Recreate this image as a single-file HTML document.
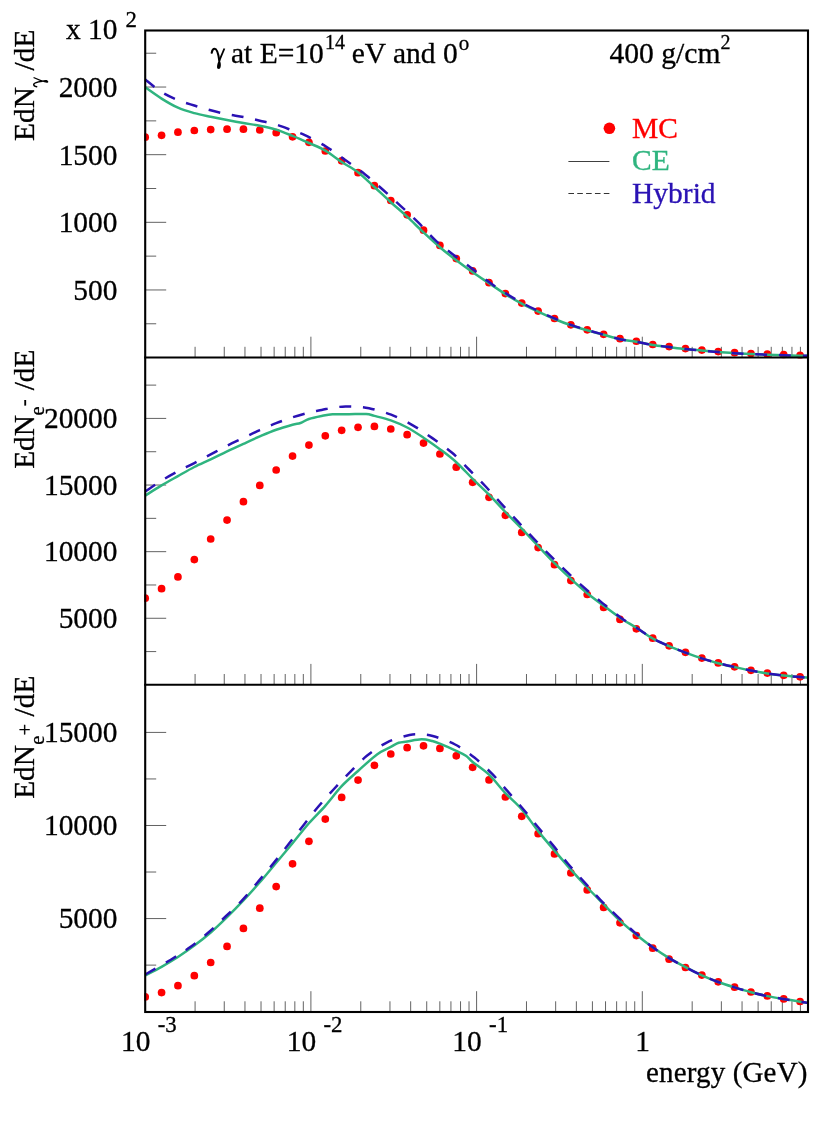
<!DOCTYPE html>
<html><head><meta charset="utf-8"><title>chart</title>
<style>html,body{margin:0;padding:0;background:#fff}svg{display:block;will-change:transform}text{font-family:"Liberation Serif",serif;fill:#000;stroke:#000;stroke-width:0.3px}</style></head><body>
<svg width="830" height="1147" viewBox="0 0 830 1147">
<rect width="830" height="1147" fill="#fff"/>
<defs><g id="gam"><path d="M0.2,-9.9 C0.6,-12.6 1.7,-14 3.2,-14 C5.4,-14 6.8,-9.5 7.8,-2.2" fill="none" stroke="#000" stroke-width="2.1" stroke-linecap="round"/><path d="M12.9,-14.2 L7.9,-2.4" fill="none" stroke="#000" stroke-width="1.8" stroke-linecap="butt"/><path d="M7.9,-3.6 C9.5,0.2 9.7,3.3 8.9,5 C8.1,6.6 6,6.6 5.6,5 C5.2,3.3 6.1,0.2 7.9,-3.6 Z" fill="#000"/></g></defs>
<g stroke="#000" stroke-width="0.62" fill="none">
<line x1="195.08" y1="357.50" x2="195.08" y2="346.80"/>
<line x1="224.26" y1="357.50" x2="224.26" y2="346.80"/>
<line x1="244.96" y1="357.50" x2="244.96" y2="346.80"/>
<line x1="261.02" y1="357.50" x2="261.02" y2="346.80"/>
<line x1="274.14" y1="357.50" x2="274.14" y2="346.80"/>
<line x1="285.23" y1="357.50" x2="285.23" y2="346.80"/>
<line x1="294.84" y1="357.50" x2="294.84" y2="346.80"/>
<line x1="303.32" y1="357.50" x2="303.32" y2="346.80"/>
<line x1="310.90" y1="357.50" x2="310.90" y2="336.70"/>
<line x1="360.78" y1="357.50" x2="360.78" y2="346.80"/>
<line x1="389.96" y1="357.50" x2="389.96" y2="346.80"/>
<line x1="410.66" y1="357.50" x2="410.66" y2="346.80"/>
<line x1="426.72" y1="357.50" x2="426.72" y2="346.80"/>
<line x1="439.84" y1="357.50" x2="439.84" y2="346.80"/>
<line x1="450.93" y1="357.50" x2="450.93" y2="346.80"/>
<line x1="460.54" y1="357.50" x2="460.54" y2="346.80"/>
<line x1="469.02" y1="357.50" x2="469.02" y2="346.80"/>
<line x1="476.60" y1="357.50" x2="476.60" y2="336.70"/>
<line x1="526.48" y1="357.50" x2="526.48" y2="346.80"/>
<line x1="555.66" y1="357.50" x2="555.66" y2="346.80"/>
<line x1="576.36" y1="357.50" x2="576.36" y2="346.80"/>
<line x1="592.42" y1="357.50" x2="592.42" y2="346.80"/>
<line x1="605.54" y1="357.50" x2="605.54" y2="346.80"/>
<line x1="616.63" y1="357.50" x2="616.63" y2="346.80"/>
<line x1="626.24" y1="357.50" x2="626.24" y2="346.80"/>
<line x1="634.72" y1="357.50" x2="634.72" y2="346.80"/>
<line x1="642.30" y1="357.50" x2="642.30" y2="336.70"/>
<line x1="692.18" y1="357.50" x2="692.18" y2="346.80"/>
<line x1="721.36" y1="357.50" x2="721.36" y2="346.80"/>
<line x1="742.06" y1="357.50" x2="742.06" y2="346.80"/>
<line x1="758.12" y1="357.50" x2="758.12" y2="346.80"/>
<line x1="771.24" y1="357.50" x2="771.24" y2="346.80"/>
<line x1="782.33" y1="357.50" x2="782.33" y2="346.80"/>
<line x1="791.94" y1="357.50" x2="791.94" y2="346.80"/>
<line x1="800.42" y1="357.50" x2="800.42" y2="346.80"/>
<line x1="195.08" y1="684.70" x2="195.08" y2="674.00"/>
<line x1="224.26" y1="684.70" x2="224.26" y2="674.00"/>
<line x1="244.96" y1="684.70" x2="244.96" y2="674.00"/>
<line x1="261.02" y1="684.70" x2="261.02" y2="674.00"/>
<line x1="274.14" y1="684.70" x2="274.14" y2="674.00"/>
<line x1="285.23" y1="684.70" x2="285.23" y2="674.00"/>
<line x1="294.84" y1="684.70" x2="294.84" y2="674.00"/>
<line x1="303.32" y1="684.70" x2="303.32" y2="674.00"/>
<line x1="310.90" y1="684.70" x2="310.90" y2="663.90"/>
<line x1="360.78" y1="684.70" x2="360.78" y2="674.00"/>
<line x1="389.96" y1="684.70" x2="389.96" y2="674.00"/>
<line x1="410.66" y1="684.70" x2="410.66" y2="674.00"/>
<line x1="426.72" y1="684.70" x2="426.72" y2="674.00"/>
<line x1="439.84" y1="684.70" x2="439.84" y2="674.00"/>
<line x1="450.93" y1="684.70" x2="450.93" y2="674.00"/>
<line x1="460.54" y1="684.70" x2="460.54" y2="674.00"/>
<line x1="469.02" y1="684.70" x2="469.02" y2="674.00"/>
<line x1="476.60" y1="684.70" x2="476.60" y2="663.90"/>
<line x1="526.48" y1="684.70" x2="526.48" y2="674.00"/>
<line x1="555.66" y1="684.70" x2="555.66" y2="674.00"/>
<line x1="576.36" y1="684.70" x2="576.36" y2="674.00"/>
<line x1="592.42" y1="684.70" x2="592.42" y2="674.00"/>
<line x1="605.54" y1="684.70" x2="605.54" y2="674.00"/>
<line x1="616.63" y1="684.70" x2="616.63" y2="674.00"/>
<line x1="626.24" y1="684.70" x2="626.24" y2="674.00"/>
<line x1="634.72" y1="684.70" x2="634.72" y2="674.00"/>
<line x1="642.30" y1="684.70" x2="642.30" y2="663.90"/>
<line x1="692.18" y1="684.70" x2="692.18" y2="674.00"/>
<line x1="721.36" y1="684.70" x2="721.36" y2="674.00"/>
<line x1="742.06" y1="684.70" x2="742.06" y2="674.00"/>
<line x1="758.12" y1="684.70" x2="758.12" y2="674.00"/>
<line x1="771.24" y1="684.70" x2="771.24" y2="674.00"/>
<line x1="782.33" y1="684.70" x2="782.33" y2="674.00"/>
<line x1="791.94" y1="684.70" x2="791.94" y2="674.00"/>
<line x1="800.42" y1="684.70" x2="800.42" y2="674.00"/>
<line x1="195.08" y1="1012.00" x2="195.08" y2="1001.30"/>
<line x1="224.26" y1="1012.00" x2="224.26" y2="1001.30"/>
<line x1="244.96" y1="1012.00" x2="244.96" y2="1001.30"/>
<line x1="261.02" y1="1012.00" x2="261.02" y2="1001.30"/>
<line x1="274.14" y1="1012.00" x2="274.14" y2="1001.30"/>
<line x1="285.23" y1="1012.00" x2="285.23" y2="1001.30"/>
<line x1="294.84" y1="1012.00" x2="294.84" y2="1001.30"/>
<line x1="303.32" y1="1012.00" x2="303.32" y2="1001.30"/>
<line x1="310.90" y1="1012.00" x2="310.90" y2="991.20"/>
<line x1="360.78" y1="1012.00" x2="360.78" y2="1001.30"/>
<line x1="389.96" y1="1012.00" x2="389.96" y2="1001.30"/>
<line x1="410.66" y1="1012.00" x2="410.66" y2="1001.30"/>
<line x1="426.72" y1="1012.00" x2="426.72" y2="1001.30"/>
<line x1="439.84" y1="1012.00" x2="439.84" y2="1001.30"/>
<line x1="450.93" y1="1012.00" x2="450.93" y2="1001.30"/>
<line x1="460.54" y1="1012.00" x2="460.54" y2="1001.30"/>
<line x1="469.02" y1="1012.00" x2="469.02" y2="1001.30"/>
<line x1="476.60" y1="1012.00" x2="476.60" y2="991.20"/>
<line x1="526.48" y1="1012.00" x2="526.48" y2="1001.30"/>
<line x1="555.66" y1="1012.00" x2="555.66" y2="1001.30"/>
<line x1="576.36" y1="1012.00" x2="576.36" y2="1001.30"/>
<line x1="592.42" y1="1012.00" x2="592.42" y2="1001.30"/>
<line x1="605.54" y1="1012.00" x2="605.54" y2="1001.30"/>
<line x1="616.63" y1="1012.00" x2="616.63" y2="1001.30"/>
<line x1="626.24" y1="1012.00" x2="626.24" y2="1001.30"/>
<line x1="634.72" y1="1012.00" x2="634.72" y2="1001.30"/>
<line x1="642.30" y1="1012.00" x2="642.30" y2="991.20"/>
<line x1="692.18" y1="1012.00" x2="692.18" y2="1001.30"/>
<line x1="721.36" y1="1012.00" x2="721.36" y2="1001.30"/>
<line x1="742.06" y1="1012.00" x2="742.06" y2="1001.30"/>
<line x1="758.12" y1="1012.00" x2="758.12" y2="1001.30"/>
<line x1="771.24" y1="1012.00" x2="771.24" y2="1001.30"/>
<line x1="782.33" y1="1012.00" x2="782.33" y2="1001.30"/>
<line x1="791.94" y1="1012.00" x2="791.94" y2="1001.30"/>
<line x1="800.42" y1="1012.00" x2="800.42" y2="1001.30"/>
<line x1="145.20" y1="323.78" x2="156.20" y2="323.78"/>
<line x1="145.20" y1="289.96" x2="166.20" y2="289.96"/>
<line x1="145.20" y1="256.14" x2="156.20" y2="256.14"/>
<line x1="145.20" y1="222.32" x2="166.20" y2="222.32"/>
<line x1="145.20" y1="188.50" x2="156.20" y2="188.50"/>
<line x1="145.20" y1="154.68" x2="166.20" y2="154.68"/>
<line x1="145.20" y1="120.86" x2="156.20" y2="120.86"/>
<line x1="145.20" y1="87.04" x2="166.20" y2="87.04"/>
<line x1="145.20" y1="53.22" x2="156.20" y2="53.22"/>
<line x1="145.20" y1="651.59" x2="156.20" y2="651.59"/>
<line x1="145.20" y1="618.28" x2="166.20" y2="618.28"/>
<line x1="145.20" y1="584.97" x2="156.20" y2="584.97"/>
<line x1="145.20" y1="551.66" x2="166.20" y2="551.66"/>
<line x1="145.20" y1="518.35" x2="156.20" y2="518.35"/>
<line x1="145.20" y1="485.04" x2="166.20" y2="485.04"/>
<line x1="145.20" y1="451.73" x2="156.20" y2="451.73"/>
<line x1="145.20" y1="418.42" x2="166.20" y2="418.42"/>
<line x1="145.20" y1="385.11" x2="156.20" y2="385.11"/>
<line x1="145.20" y1="965.11" x2="156.20" y2="965.11"/>
<line x1="145.20" y1="918.57" x2="166.20" y2="918.57"/>
<line x1="145.20" y1="872.03" x2="156.20" y2="872.03"/>
<line x1="145.20" y1="825.49" x2="166.20" y2="825.49"/>
<line x1="145.20" y1="778.95" x2="156.20" y2="778.95"/>
<line x1="145.20" y1="732.41" x2="166.20" y2="732.41"/>
</g>
<clipPath id="c1"><rect x="144.20" y="30.50" width="664.80" height="328.00"/></clipPath>
<g clip-path="url(#c1)">
<g fill="#ff0000">
<circle cx="145.20" cy="137.20" r="3.85"/>
<circle cx="161.57" cy="135.30" r="3.85"/>
<circle cx="177.94" cy="132.20" r="3.85"/>
<circle cx="194.32" cy="130.50" r="3.85"/>
<circle cx="210.69" cy="129.60" r="3.85"/>
<circle cx="227.06" cy="129.20" r="3.85"/>
<circle cx="243.43" cy="129.20" r="3.85"/>
<circle cx="259.80" cy="130.00" r="3.85"/>
<circle cx="276.18" cy="132.70" r="3.85"/>
<circle cx="292.55" cy="136.80" r="3.85"/>
<circle cx="308.92" cy="142.35" r="3.85"/>
<circle cx="325.29" cy="151.00" r="3.85"/>
<circle cx="341.66" cy="160.80" r="3.85"/>
<circle cx="358.04" cy="172.70" r="3.85"/>
<circle cx="374.41" cy="185.70" r="3.85"/>
<circle cx="390.78" cy="200.50" r="3.85"/>
<circle cx="407.15" cy="214.80" r="3.85"/>
<circle cx="423.52" cy="230.20" r="3.85"/>
<circle cx="439.90" cy="245.40" r="3.85"/>
<circle cx="456.27" cy="258.60" r="3.85"/>
<circle cx="472.64" cy="270.95" r="3.85"/>
<circle cx="489.01" cy="282.70" r="3.85"/>
<circle cx="505.38" cy="293.60" r="3.85"/>
<circle cx="521.76" cy="303.10" r="3.85"/>
<circle cx="538.13" cy="311.10" r="3.85"/>
<circle cx="554.50" cy="318.50" r="3.85"/>
<circle cx="570.87" cy="324.80" r="3.85"/>
<circle cx="587.24" cy="329.80" r="3.85"/>
<circle cx="603.62" cy="334.30" r="3.85"/>
<circle cx="619.99" cy="338.70" r="3.85"/>
<circle cx="636.36" cy="341.25" r="3.85"/>
<circle cx="652.73" cy="344.50" r="3.85"/>
<circle cx="669.10" cy="346.60" r="3.85"/>
<circle cx="685.48" cy="348.60" r="3.85"/>
<circle cx="701.85" cy="350.10" r="3.85"/>
<circle cx="718.22" cy="351.60" r="3.85"/>
<circle cx="734.59" cy="352.70" r="3.85"/>
<circle cx="750.96" cy="353.60" r="3.85"/>
<circle cx="767.34" cy="354.20" r="3.85"/>
<circle cx="783.71" cy="354.70" r="3.85"/>
<circle cx="800.08" cy="355.30" r="3.85"/>
</g>
<path d="M145.20 87.30 C147.93 89.18 156.11 95.20 161.57 98.60 C167.03 102.00 172.49 105.28 177.94 107.70 C183.40 110.12 188.86 111.58 194.32 113.10 C199.77 114.62 205.23 115.63 210.69 116.80 C216.15 117.97 221.60 119.05 227.06 120.10 C232.52 121.15 237.97 122.17 243.43 123.10 C248.89 124.03 254.35 124.62 259.80 125.70 C265.26 126.78 270.72 127.90 276.18 129.60 C281.63 131.30 287.09 133.67 292.55 135.90 C298.01 138.13 303.46 140.55 308.92 143.00 C314.38 145.45 319.83 147.43 325.29 150.60 C330.75 153.77 336.21 158.40 341.66 162.00 C347.12 165.60 352.58 168.03 358.04 172.20 C363.49 176.37 368.95 182.00 374.41 187.00 C379.87 192.00 385.32 197.25 390.78 202.20 C396.24 207.15 401.69 211.67 407.15 216.70 C412.61 221.73 418.07 227.32 423.52 232.40 C428.98 237.48 434.44 242.55 439.90 247.20 C445.35 251.85 450.81 256.13 456.27 260.30 C461.73 264.47 467.18 268.38 472.64 272.20 C478.10 276.02 483.55 279.55 489.01 283.20 C494.47 286.85 499.93 290.70 505.38 294.10 C510.84 297.50 516.30 300.68 521.76 303.60 C527.21 306.52 532.67 309.03 538.13 311.60 C543.59 314.17 549.04 316.72 554.50 319.00 C559.96 321.28 565.41 323.42 570.87 325.30 C576.33 327.18 581.79 328.72 587.24 330.30 C592.70 331.88 598.16 333.32 603.62 334.80 C609.07 336.28 614.53 338.04 619.99 339.20 C625.45 340.36 630.90 340.78 636.36 341.75 C641.82 342.72 647.27 344.11 652.73 345.00 C658.19 345.89 663.65 346.42 669.10 347.10 C674.56 347.78 680.02 348.52 685.48 349.10 C690.93 349.68 696.39 350.10 701.85 350.60 C707.31 351.10 712.76 351.67 718.22 352.10 C723.68 352.53 729.13 352.87 734.59 353.20 C740.05 353.53 745.51 353.85 750.96 354.10 C756.42 354.35 761.88 354.52 767.34 354.70 C772.79 354.88 778.25 355.02 783.71 355.20 C789.17 355.38 796.03 355.70 800.08 355.80 C804.13 355.90 806.68 355.80 808.00 355.80" fill="none" stroke="#2fb47f" stroke-width="2.5" stroke-linejoin="round"/>
<path d="M145.20 79.50 C147.93 81.60 156.11 88.67 161.57 92.10 C167.03 95.53 172.49 97.87 177.94 100.10 C183.40 102.33 188.86 103.80 194.32 105.50 C199.77 107.20 205.23 108.85 210.69 110.30 C216.15 111.75 221.60 113.08 227.06 114.20 C232.52 115.32 237.97 115.92 243.43 117.00 C248.89 118.08 254.35 119.43 259.80 120.70 C265.26 121.97 270.72 122.97 276.18 124.60 C281.63 126.23 287.68 128.70 292.55 130.50 C297.42 132.30 299.82 132.73 305.40 135.40 C310.98 138.07 319.23 142.30 326.00 146.50 C332.77 150.70 339.48 155.95 346.00 160.60 C352.52 165.25 358.85 169.45 365.10 174.40 C371.35 179.35 377.55 185.02 383.50 190.30 C389.45 195.58 395.02 200.75 400.80 206.10 C406.58 211.45 412.33 216.62 418.20 222.40 C424.07 228.18 430.15 235.42 436.00 240.80 C441.85 246.18 447.42 250.18 453.30 254.70 C459.18 259.22 465.35 263.35 471.30 267.90 C477.25 272.45 483.33 277.81 489.01 282.00 C494.69 286.19 499.93 289.60 505.38 293.05 C510.84 296.50 516.30 299.73 521.76 302.70 C527.21 305.67 532.67 308.23 538.13 310.85 C543.59 313.47 549.04 316.07 554.50 318.40 C559.96 320.73 565.41 322.92 570.87 324.85 C576.33 326.78 581.79 328.37 587.24 330.00 C592.70 331.63 598.16 333.12 603.62 334.65 C609.07 336.18 614.53 338.02 619.99 339.20 C625.45 340.38 630.90 340.78 636.36 341.75 C641.82 342.72 647.27 344.11 652.73 345.00 C658.19 345.89 663.65 346.42 669.10 347.10 C674.56 347.78 680.02 348.52 685.48 349.10 C690.93 349.68 696.39 350.10 701.85 350.60 C707.31 351.10 712.76 351.67 718.22 352.10 C723.68 352.53 729.13 352.87 734.59 353.20 C740.05 353.53 745.51 353.85 750.96 354.10 C756.42 354.35 761.88 354.52 767.34 354.70 C772.79 354.88 778.25 355.02 783.71 355.20 C789.17 355.38 796.03 355.70 800.08 355.80 C804.13 355.90 806.68 355.80 808.00 355.80" fill="none" stroke="#2a12b4" stroke-width="2.5" stroke-dasharray="11.9 11.8" stroke-linejoin="round"/>
</g>
<clipPath id="c2"><rect x="144.20" y="357.50" width="664.80" height="328.20"/></clipPath>
<g clip-path="url(#c2)">
<g fill="#ff0000">
<circle cx="145.20" cy="598.20" r="3.85"/>
<circle cx="161.57" cy="588.70" r="3.85"/>
<circle cx="177.94" cy="576.90" r="3.85"/>
<circle cx="194.32" cy="559.60" r="3.85"/>
<circle cx="210.69" cy="539.00" r="3.85"/>
<circle cx="227.06" cy="520.10" r="3.85"/>
<circle cx="243.43" cy="501.70" r="3.85"/>
<circle cx="259.80" cy="485.40" r="3.85"/>
<circle cx="276.18" cy="470.00" r="3.85"/>
<circle cx="292.55" cy="456.10" r="3.85"/>
<circle cx="308.92" cy="445.10" r="3.85"/>
<circle cx="325.29" cy="435.80" r="3.85"/>
<circle cx="341.66" cy="430.30" r="3.85"/>
<circle cx="358.04" cy="427.30" r="3.85"/>
<circle cx="374.41" cy="426.40" r="3.85"/>
<circle cx="390.78" cy="429.00" r="3.85"/>
<circle cx="407.15" cy="434.70" r="3.85"/>
<circle cx="423.52" cy="443.10" r="3.85"/>
<circle cx="439.90" cy="454.00" r="3.85"/>
<circle cx="456.27" cy="467.20" r="3.85"/>
<circle cx="472.64" cy="482.35" r="3.85"/>
<circle cx="489.01" cy="497.30" r="3.85"/>
<circle cx="505.38" cy="515.30" r="3.85"/>
<circle cx="521.76" cy="532.40" r="3.85"/>
<circle cx="538.13" cy="547.60" r="3.85"/>
<circle cx="554.50" cy="564.70" r="3.85"/>
<circle cx="570.87" cy="580.60" r="3.85"/>
<circle cx="587.24" cy="594.50" r="3.85"/>
<circle cx="603.62" cy="607.50" r="3.85"/>
<circle cx="619.99" cy="619.40" r="3.85"/>
<circle cx="636.36" cy="628.85" r="3.85"/>
<circle cx="652.73" cy="638.20" r="3.85"/>
<circle cx="669.10" cy="645.80" r="3.85"/>
<circle cx="685.48" cy="652.30" r="3.85"/>
<circle cx="701.85" cy="658.10" r="3.85"/>
<circle cx="718.22" cy="662.90" r="3.85"/>
<circle cx="734.59" cy="666.80" r="3.85"/>
<circle cx="750.96" cy="670.30" r="3.85"/>
<circle cx="767.34" cy="673.10" r="3.85"/>
<circle cx="783.71" cy="675.30" r="3.85"/>
<circle cx="800.08" cy="676.80" r="3.85"/>
</g>
<path d="M145.20 495.60 C147.93 493.90 156.11 488.65 161.57 485.40 C167.03 482.15 172.49 479.17 177.94 476.10 C183.40 473.03 188.86 469.78 194.32 467.00 C199.77 464.22 205.23 462.00 210.69 459.40 C216.15 456.80 221.60 454.00 227.06 451.40 C232.52 448.80 237.97 446.30 243.43 443.80 C248.89 441.30 254.35 438.75 259.80 436.40 C265.26 434.05 270.72 431.65 276.18 429.70 C281.63 427.75 288.49 425.82 292.55 424.70 C296.60 423.58 297.77 423.95 300.50 423.00 C303.23 422.05 305.39 420.17 308.92 419.00 C312.45 417.83 317.77 416.78 321.70 416.00 C325.63 415.22 327.95 414.60 332.50 414.30 C337.05 414.00 343.40 414.23 349.00 414.20 C354.60 414.17 361.87 413.82 366.10 414.10 C370.33 414.38 370.29 414.85 374.41 415.90 C378.52 416.95 385.32 418.47 390.78 420.40 C396.24 422.33 401.69 424.62 407.15 427.50 C412.61 430.38 418.07 434.08 423.52 437.70 C428.98 441.32 434.44 445.12 439.90 449.20 C445.35 453.28 450.81 457.27 456.27 462.20 C461.73 467.13 467.18 473.38 472.64 478.80 C478.10 484.22 483.55 489.17 489.01 494.70 C494.47 500.23 499.93 506.33 505.38 512.00 C510.84 517.67 516.30 523.03 521.76 528.70 C527.21 534.37 532.67 540.27 538.13 546.00 C543.59 551.73 549.04 557.63 554.50 563.10 C559.96 568.57 565.41 573.78 570.87 578.80 C576.33 583.82 581.79 588.72 587.24 593.20 C592.70 597.68 598.16 601.62 603.62 605.70 C609.07 609.78 614.53 614.02 619.99 617.70 C625.45 621.38 630.90 624.33 636.36 627.80 C641.82 631.27 647.27 635.45 652.73 638.50 C658.19 641.55 663.65 643.75 669.10 646.10 C674.56 648.45 680.02 650.55 685.48 652.60 C690.93 654.65 696.39 656.63 701.85 658.40 C707.31 660.17 712.76 661.75 718.22 663.20 C723.68 664.65 729.13 665.87 734.59 667.10 C740.05 668.33 745.51 669.55 750.96 670.60 C756.42 671.65 761.88 672.57 767.34 673.40 C772.79 674.23 778.25 674.98 783.71 675.60 C789.17 676.22 796.03 676.75 800.08 677.10 C804.13 677.45 806.68 677.60 808.00 677.70" fill="none" stroke="#2fb47f" stroke-width="2.5" stroke-linejoin="round"/>
<path d="M145.20 491.50 C147.93 489.68 156.11 483.97 161.57 480.60 C167.03 477.23 172.49 474.22 177.94 471.30 C183.40 468.38 188.86 465.92 194.32 463.10 C199.77 460.28 205.23 457.30 210.69 454.40 C216.15 451.50 221.60 448.45 227.06 445.70 C232.52 442.95 237.97 440.50 243.43 437.90 C248.89 435.30 254.35 432.55 259.80 430.10 C265.26 427.65 270.72 425.33 276.18 423.20 C281.63 421.07 287.09 419.07 292.55 417.30 C298.01 415.53 304.06 413.82 308.92 412.60 C313.78 411.38 317.69 410.83 321.70 410.00 C325.71 409.17 329.03 408.18 333.00 407.60 C336.97 407.02 341.50 406.63 345.50 406.50 C349.50 406.37 353.08 406.52 357.00 406.80 C360.92 407.08 363.32 406.88 369.00 408.20 C374.68 409.52 383.80 411.85 391.10 414.70 C398.40 417.55 405.87 421.35 412.80 425.30 C419.73 429.25 426.20 433.87 432.70 438.40 C439.20 442.93 445.75 447.32 451.80 452.50 C457.85 457.68 463.43 463.92 469.00 469.50 C474.57 475.08 479.83 480.32 485.20 486.00 C490.57 491.68 495.82 497.73 501.20 503.60 C506.58 509.47 512.12 515.42 517.50 521.20 C522.88 526.98 528.08 532.60 533.50 538.30 C538.92 544.00 544.43 549.80 550.00 555.40 C555.57 561.00 561.15 566.47 566.90 571.90 C572.65 577.33 578.57 582.80 584.50 588.00 C590.43 593.20 596.43 598.15 602.50 603.10 C608.57 608.05 615.05 613.47 620.90 617.70 C626.75 621.93 632.29 625.03 637.60 628.50 C642.91 631.97 647.48 635.57 652.73 638.50 C657.98 641.43 663.65 643.75 669.10 646.10 C674.56 648.45 680.02 650.55 685.48 652.60 C690.93 654.65 696.39 656.63 701.85 658.40 C707.31 660.17 712.76 661.75 718.22 663.20 C723.68 664.65 729.13 665.87 734.59 667.10 C740.05 668.33 745.51 669.55 750.96 670.60 C756.42 671.65 761.88 672.57 767.34 673.40 C772.79 674.23 778.25 674.98 783.71 675.60 C789.17 676.22 796.03 676.75 800.08 677.10 C804.13 677.45 806.68 677.60 808.00 677.70" fill="none" stroke="#2a12b4" stroke-width="2.5" stroke-dasharray="11.9 11.8" stroke-linejoin="round"/>
</g>
<clipPath id="c3"><rect x="144.20" y="684.70" width="664.80" height="328.30"/></clipPath>
<g clip-path="url(#c3)">
<g fill="#ff0000">
<circle cx="145.20" cy="996.90" r="3.85"/>
<circle cx="161.57" cy="992.60" r="3.85"/>
<circle cx="177.94" cy="985.70" r="3.85"/>
<circle cx="194.32" cy="975.70" r="3.85"/>
<circle cx="210.69" cy="962.50" r="3.85"/>
<circle cx="227.06" cy="946.40" r="3.85"/>
<circle cx="243.43" cy="928.40" r="3.85"/>
<circle cx="259.80" cy="908.20" r="3.85"/>
<circle cx="276.18" cy="886.60" r="3.85"/>
<circle cx="292.55" cy="863.80" r="3.85"/>
<circle cx="308.92" cy="841.30" r="3.85"/>
<circle cx="325.29" cy="819.10" r="3.85"/>
<circle cx="341.66" cy="797.40" r="3.85"/>
<circle cx="358.04" cy="780.10" r="3.85"/>
<circle cx="374.41" cy="765.30" r="3.85"/>
<circle cx="390.78" cy="754.00" r="3.85"/>
<circle cx="407.15" cy="747.70" r="3.85"/>
<circle cx="423.52" cy="745.80" r="3.85"/>
<circle cx="439.90" cy="748.40" r="3.85"/>
<circle cx="456.27" cy="755.80" r="3.85"/>
<circle cx="472.64" cy="767.30" r="3.85"/>
<circle cx="489.01" cy="779.90" r="3.85"/>
<circle cx="505.38" cy="797.00" r="3.85"/>
<circle cx="521.76" cy="816.30" r="3.85"/>
<circle cx="538.13" cy="833.70" r="3.85"/>
<circle cx="554.50" cy="853.90" r="3.85"/>
<circle cx="570.87" cy="872.90" r="3.85"/>
<circle cx="587.24" cy="889.90" r="3.85"/>
<circle cx="603.62" cy="907.40" r="3.85"/>
<circle cx="619.99" cy="922.80" r="3.85"/>
<circle cx="636.36" cy="935.60" r="3.85"/>
<circle cx="652.73" cy="948.20" r="3.85"/>
<circle cx="669.10" cy="959.20" r="3.85"/>
<circle cx="685.48" cy="967.50" r="3.85"/>
<circle cx="701.85" cy="975.10" r="3.85"/>
<circle cx="718.22" cy="981.80" r="3.85"/>
<circle cx="734.59" cy="987.20" r="3.85"/>
<circle cx="750.96" cy="992.00" r="3.85"/>
<circle cx="767.34" cy="995.90" r="3.85"/>
<circle cx="783.71" cy="998.90" r="3.85"/>
<circle cx="800.08" cy="1001.50" r="3.85"/>
</g>
<path d="M145.20 975.50 C147.93 974.05 156.11 969.88 161.57 966.80 C167.03 963.72 172.49 960.53 177.94 957.00 C183.40 953.47 188.86 949.68 194.32 945.60 C199.77 941.52 205.23 937.25 210.69 932.50 C216.15 927.75 221.60 922.45 227.06 917.10 C232.52 911.75 237.97 906.20 243.43 900.40 C248.89 894.60 254.35 888.57 259.80 882.30 C265.26 876.03 270.72 869.32 276.18 862.80 C281.63 856.28 287.09 849.80 292.55 843.20 C298.01 836.60 303.46 829.43 308.92 823.20 C314.38 816.97 319.83 811.97 325.29 805.80 C330.75 799.63 336.21 792.00 341.66 786.20 C347.12 780.40 352.15 776.30 358.04 771.00 C363.93 765.70 371.54 758.42 377.00 754.40 C382.46 750.38 387.16 748.83 390.78 746.90 C394.40 744.97 395.97 743.70 398.70 742.80 C401.43 741.90 403.37 742.08 407.15 741.50 C410.94 740.92 417.21 739.38 421.40 739.30 C425.59 739.22 429.22 740.28 432.30 741.00 C435.38 741.72 435.90 741.97 439.90 743.60 C443.89 745.23 451.93 748.77 456.27 750.80 C460.60 752.83 463.17 753.93 465.90 755.80 C468.63 757.67 468.79 758.85 472.64 762.00 C476.49 765.15 483.55 769.52 489.01 774.70 C494.47 779.88 499.93 787.32 505.38 793.10 C510.84 798.88 516.30 803.07 521.76 809.40 C527.21 815.73 532.67 824.23 538.13 831.10 C543.59 837.97 549.04 844.17 554.50 850.60 C559.96 857.03 565.41 863.55 570.87 869.70 C576.33 875.85 581.79 881.75 587.24 887.50 C592.70 893.25 598.16 898.67 603.62 904.20 C609.07 909.73 614.53 915.62 619.99 920.70 C625.45 925.78 630.90 930.27 636.36 934.70 C641.82 939.13 647.27 943.40 652.73 947.30 C658.19 951.20 663.65 954.80 669.10 958.10 C674.56 961.40 680.02 964.23 685.48 967.10 C690.93 969.97 696.39 972.82 701.85 975.30 C707.31 977.78 712.76 979.98 718.22 982.00 C723.68 984.02 729.13 985.70 734.59 987.40 C740.05 989.10 745.51 990.75 750.96 992.20 C756.42 993.65 761.88 994.95 767.34 996.10 C772.79 997.25 778.25 998.17 783.71 999.10 C789.17 1000.03 796.03 1001.08 800.08 1001.70 C804.13 1002.32 806.68 1002.62 808.00 1002.80" fill="none" stroke="#2fb47f" stroke-width="2.5" stroke-linejoin="round"/>
<path d="M145.20 974.50 C149.47 972.03 163.28 964.28 170.80 959.70 C178.32 955.12 183.98 951.57 190.30 947.00 C196.62 942.43 202.73 937.47 208.70 932.30 C214.67 927.13 220.38 921.48 226.10 916.00 C231.82 910.52 237.58 905.22 243.00 899.40 C248.42 893.58 253.47 887.18 258.60 881.10 C263.73 875.02 268.85 869.00 273.80 862.90 C278.75 856.80 283.35 850.78 288.30 844.50 C293.25 838.22 298.48 831.53 303.50 825.20 C308.52 818.87 313.32 812.53 318.40 806.50 C323.48 800.47 328.68 794.78 334.00 789.00 C339.32 783.22 344.77 777.37 350.30 771.80 C355.83 766.23 361.05 760.52 367.20 755.60 C373.35 750.68 380.15 745.73 387.20 742.30 C394.25 738.87 403.87 736.28 409.50 735.00 C415.13 733.72 417.13 734.43 421.00 734.60 C424.87 734.77 427.02 734.35 432.70 736.00 C438.38 737.65 448.15 740.90 455.10 744.50 C462.05 748.10 468.30 752.78 474.40 757.60 C480.50 762.42 486.25 767.88 491.70 773.40 C497.15 778.92 501.90 784.82 507.10 790.70 C512.30 796.58 517.77 802.65 522.90 808.70 C528.03 814.75 532.83 820.85 537.90 827.00 C542.97 833.15 548.28 839.47 553.30 845.60 C558.32 851.73 562.83 857.72 568.00 863.80 C573.17 869.88 578.95 876.13 584.30 882.10 C589.65 888.07 594.65 893.93 600.10 899.60 C605.55 905.27 611.25 910.63 617.00 916.10 C622.75 921.57 628.64 927.20 634.60 932.40 C640.56 937.60 646.98 943.02 652.73 947.30 C658.48 951.58 663.65 954.80 669.10 958.10 C674.56 961.40 680.02 964.23 685.48 967.10 C690.93 969.97 696.39 972.82 701.85 975.30 C707.31 977.78 712.76 979.98 718.22 982.00 C723.68 984.02 729.13 985.70 734.59 987.40 C740.05 989.10 745.51 990.75 750.96 992.20 C756.42 993.65 761.88 994.95 767.34 996.10 C772.79 997.25 778.25 998.17 783.71 999.10 C789.17 1000.03 796.03 1001.08 800.08 1001.70 C804.13 1002.32 806.68 1002.62 808.00 1002.80" fill="none" stroke="#2a12b4" stroke-width="2.5" stroke-dasharray="11.9 11.8" stroke-linejoin="round"/>
</g>
<g stroke="#000" stroke-width="2.1" fill="none" stroke-linecap="square">
<rect x="145.20" y="30.50" width="662.80" height="981.50"/>
<line x1="145.20" y1="357.50" x2="808.00" y2="357.50"/>
<line x1="145.20" y1="684.70" x2="808.00" y2="684.70"/>
</g>
<g font-size="29">
<text transform="translate(117.50,97.00) scale(0.972,1)" font-size="30.3" text-anchor="end">2000</text>
<text transform="translate(117.50,164.70) scale(0.972,1)" font-size="30.3" text-anchor="end">1500</text>
<text transform="translate(117.50,232.30) scale(0.972,1)" font-size="30.3" text-anchor="end">1000</text>
<text transform="translate(117.50,299.90) scale(0.972,1)" font-size="30.3" text-anchor="end">500</text>
<text transform="translate(117.50,428.00) scale(0.972,1)" font-size="30.3" text-anchor="end">20000</text>
<text transform="translate(117.50,494.70) scale(0.972,1)" font-size="30.3" text-anchor="end">15000</text>
<text transform="translate(117.50,561.40) scale(0.972,1)" font-size="30.3" text-anchor="end">10000</text>
<text transform="translate(117.50,628.10) scale(0.972,1)" font-size="30.3" text-anchor="end">5000</text>
<text transform="translate(117.50,742.00) scale(0.972,1)" font-size="30.3" text-anchor="end">15000</text>
<text transform="translate(117.50,835.30) scale(0.972,1)" font-size="30.3" text-anchor="end">10000</text>
<text transform="translate(117.50,928.00) scale(0.972,1)" font-size="30.3" text-anchor="end">5000</text>
<text transform="translate(66.00,38.90) scale(0.972,1)" font-size="30.3" text-anchor="start">x</text>
<text transform="translate(117.50,38.90) scale(0.972,1)" font-size="30.3" text-anchor="end">10</text>
<text transform="translate(125.60,27.00) scale(0.972,1)" font-size="23.5" text-anchor="start">2</text>
<text transform="translate(150.40,1051.40) scale(0.972,1)" font-size="30.3" text-anchor="end">10</text>
<text transform="translate(157.70,1032.40) scale(0.972,1)" font-size="23.5" text-anchor="start">-3</text>
<text transform="translate(316.10,1051.40) scale(0.972,1)" font-size="30.3" text-anchor="end">10</text>
<text transform="translate(323.40,1032.40) scale(0.972,1)" font-size="23.5" text-anchor="start">-2</text>
<text transform="translate(481.80,1051.40) scale(0.972,1)" font-size="30.3" text-anchor="end">10</text>
<text transform="translate(489.10,1032.40) scale(0.972,1)" font-size="23.5" text-anchor="start">-1</text>
<text transform="translate(642.50,1051.20) scale(0.972,1)" font-size="30.3" text-anchor="middle">1</text>
<text x="646.0" y="1082" textLength="161.4" lengthAdjust="spacing">energy (GeV)</text>
<use href="#gam" transform="translate(211.5,62.7)"/>
<text x="231.0" y="62.7" font-size="29.5">at E=10</text>
<text x="324.9" y="48.6" font-size="20">14</text>
<text x="351.7" y="62.7" font-size="29.5">eV and 0</text>
<text x="458.8" y="50.3" font-size="21">o</text>
<text x="609.5" y="62.5" font-size="29.6">400 g/cm</text>
<text x="720.6" y="49.3" font-size="20">2</text>
<text x="632" y="137.7" style="fill:#ff0000;stroke:#ff0000" font-size="29.5">MC</text>
<text x="632" y="169.8" style="fill:#2fb47f;stroke:#2fb47f" font-size="29.5">CE</text>
<text x="632" y="202.8" style="fill:#2a12b4;stroke:#2a12b4" font-size="29.5">Hybrid</text>
<g font-size="29.3">
<g transform="translate(34.2,140.9) rotate(-90)"><text x="0" y="0">EdN</text><use href="#gam" transform="translate(54.1,9.6) scale(0.72)"/><text x="70.5" y="0">/dE</text></g>
<g transform="translate(34.4,468.8) rotate(-90)"><text x="0" y="0">EdN</text><text x="53.2" y="9.7" font-size="20.5">e</text><text x="62.8" y="-4.8" font-size="20">-</text><text x="78.5" y="0">/dE</text></g>
<g transform="translate(34.4,798.8) rotate(-90)"><text x="0" y="0">EdN</text><text x="54.0" y="9.7" font-size="20.5">e</text><text x="63.6" y="-2.4" font-size="20">+</text><text x="82.4" y="0">/dE</text></g>
</g>
</g>
<circle cx="609.4" cy="128.3" r="5.8" fill="#ff0000"/>
<line x1="568.4" y1="161.5" x2="609.4" y2="161.5" stroke="#000" stroke-width="0.75"/>
<line x1="568.4" y1="193.5" x2="609.4" y2="193.5" stroke="#000" stroke-width="0.8" stroke-dasharray="5.6 3.25"/>
</svg></body></html>
